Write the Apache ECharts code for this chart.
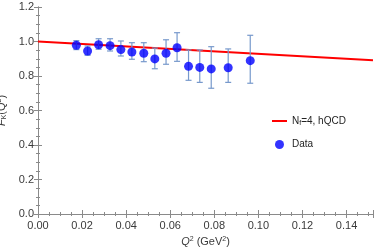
<!DOCTYPE html>
<html><head><meta charset="utf-8">
<script src="https://cdn.jsdelivr.net/npm/echarts@6/dist/echarts.min.js"></script>
<style>html,body{margin:0;padding:0;background:#fff}#c{width:374px;height:249px}</style>
</head><body><div id="c"></div>
<script>
// Data
var q2 = [0.0174,0.0225,0.0275,0.0327,0.0376,0.0426,0.0480,0.0530,0.0581,0.0631,0.0683,0.0734,0.0786,0.0863,0.0963];
var fk = [0.978,0.945,0.981,0.976,0.953,0.939,0.932,0.899,0.932,0.964,0.856,0.850,0.841,0.848,0.889];
var errHi = [0.027,0.029,0.035,0.040,0.050,0.054,0.061,0.063,0.078,0.087,0.095,0.101,0.129,0.109,0.147];
var errLo = [0.025,0.025,0.026,0.031,0.037,0.042,0.049,0.057,0.064,0.079,0.081,0.087,0.112,0.085,0.131];
var lineX = [0, 0.152];
var lineY = [1.0, 0.891];
var xTicks = ['0.00','0.02','0.04','0.06','0.08','0.10','0.12','0.14'];
var yTicks = ['0.0','0.2','0.4','0.6','0.8','1.0','1.2'];

var font = 'Liberation Sans, Arial, sans-serif';
var frame = '#8a8a8a';
var lab = '#3a3a3a';
var chart = echarts.init(document.getElementById('c'), null, {renderer:'canvas'});
var pts = q2.map(function(x,i){return [x, fk[i]];});
var bars = q2.map(function(x,i){return [x, fk[i]-errLo[i], fk[i]+errHi[i]];});
var linePts = lineX.map(function(x,i){return [x, lineY[i]];});

function axisCommon(){
  return {
    axisLine:{show:true, lineStyle:{color:frame, width:1}},
    axisTick:{show:true, inside:true, length:4, lineStyle:{color:frame}},
    minorTick:{show:true, splitNumber:4, length:2, lineStyle:{color:frame}},
    splitLine:{show:false}
  };
}

chart.setOption({
  animation:false,
  grid:{left:38, right:1, top:7, bottom:35, containLabel:false, outerBoundsMode:'none'},
  xAxis:[
    Object.assign({type:'value', min:0, max:0.152, interval:0.02, position:'bottom',
      name:'{i|Q}{s|2} (GeV{s|2})', nameLocation:'middle', nameGap:20,
      nameTextStyle:{fontFamily:font, fontSize:11, color:lab,
        rich:{i:{fontStyle:'italic', fontFamily:font, fontSize:11, color:lab},
              s:{fontSize:7, fontFamily:font, color:lab, verticalAlign:'bottom', padding:[0,0,5,0]}}},
      axisLabel:{fontFamily:font, fontSize:11, color:lab, margin:6, showMaxLabel:false,
        formatter:function(v){var k=Math.round(v/0.02); return Math.abs(v-k*0.02)<1e-9 ? xTicks[k] : '';}}
    }, axisCommon()),
    Object.assign({type:'value', min:0, max:0.152, interval:0.02, position:'top', axisLabel:{show:false}}, axisCommon())
  ],
  yAxis:[
    Object.assign({type:'value', min:0, max:1.2, interval:0.2, position:'left',
      name:'{i|F}{sub|K}(Q{s|2})', nameLocation:'middle', nameGap:28, nameRotate:90,
      nameTextStyle:{fontFamily:font, fontSize:11, color:lab,
        rich:{i:{fontStyle:'italic', fontFamily:font, fontSize:11, color:lab},
              sub:{fontSize:7, fontFamily:font, color:lab, verticalAlign:'top', padding:[5,0,0,0]},
              s:{fontSize:7, fontFamily:font, color:lab, verticalAlign:'bottom', padding:[0,0,5,0]}}},
      axisLabel:{fontFamily:font, fontSize:11, color:lab, margin:4,
        formatter:function(v){return yTicks[Math.round(v/0.2)];}}
    }, axisCommon()),
    Object.assign({type:'value', min:0, max:1.2, interval:0.2, position:'right', axisLabel:{show:false}}, axisCommon())
  ],
  legend:{
    orient:'vertical', left:267, top:111, itemWidth:15, itemHeight:9, itemGap:13,
    textStyle:{fontFamily:font, fontSize:10, color:'#222',
      rich:{sub:{fontSize:7, fontFamily:font, color:'#222', verticalAlign:'top', padding:[4,0,0,0]}}},
    formatter:function(n){return n==='hQCD' ? 'N{sub|f}=4, hQCD' : n;},
    data:[{name:'hQCD', icon:'path://M0,0L30,0L30,4L0,4Z', itemStyle:{color:'#ff0000'}}, {name:'Data', icon:'circle'}]
  },
  series:[
    {name:'hQCD', type:'line', data:linePts, symbol:'none', lineStyle:{color:'#ff0000', width:2}, itemStyle:{color:'#ff0000'}, z:2},
    {name:'errors', type:'custom', data:bars, z:3,
      renderItem:function(params, api){
        var x=api.value(0), lo=api.coord([x, api.value(1)]), hi=api.coord([x, api.value(2)]);
        var c=3, st={stroke:'#7799cc', lineWidth:1.2};
        return {type:'group', children:[
          {type:'line', shape:{x1:lo[0],y1:lo[1],x2:hi[0],y2:hi[1]}, style:st},
          {type:'line', shape:{x1:lo[0]-c,y1:lo[1],x2:lo[0]+c,y2:lo[1]}, style:st},
          {type:'line', shape:{x1:hi[0]-c,y1:hi[1],x2:hi[0]+c,y2:hi[1]}, style:st}
        ]};
      }},
    {name:'Data', type:'scatter', data:pts, symbol:'circle', symbolSize:9, itemStyle:{color:'#0000ff'}, z:4}
  ]
});
</script></body></html>
